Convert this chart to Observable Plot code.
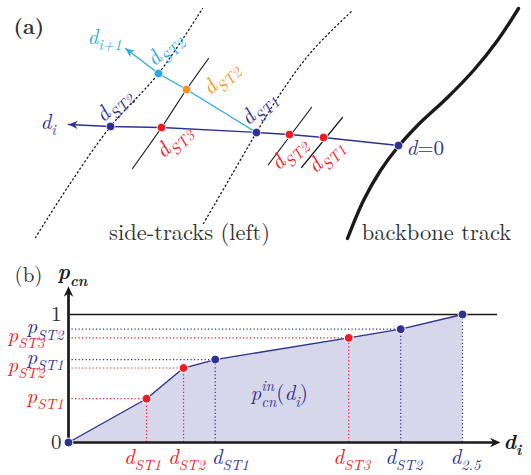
<!DOCTYPE html>
<html><head><meta charset="utf-8">
<script src="https://cdn.jsdelivr.net/npm/d3@7"></script>
<script src="https://cdn.jsdelivr.net/npm/@observablehq/plot@0.6"></script>
<style>
html,body{margin:0;padding:0;background:#fff;}
#chart svg{display:block;}
#chart svg text, #chart svg tspan{font-family:"Latin Modern Roman","CMU Serif",serif;}
</style></head><body><div id="chart"></div>
<script>
// ---------- Panel (a): schematic geometry (diagram units, y downward) ----------
const leftDottedTrack = [[35,237],[67,187],[110,126],[158,73],[202,8]];
const midDottedTrack  = [[203,223],[228,180],[256,132],[282,90],[312,50],[352,10]];
const sideTrackA = [[132,168],[161,127],[186,89],[208,58]];
const sideTrackB = [[268,164],[311,107]];
const sideTrackC = [[301,167],[342,117]];
const backboneTrack = [[347,238],[363,200],[380,170],[397,147],[417,125],[447,97],[473,70],[497,40],[518,8]];
const pathDi  = [[398,145],[323,137],[289,134],[256,132],[161,127],[110,126],[68,124]];
const pathDi1 = [[256,132],[186,89],[158,73],[125,48]];

const crossX    = [110, 256, 398, 161, 289, 323, 158, 186];
const crossY    = [126, 132, 145, 127, 134, 137, 73, 89];
const crossKind = ["break","break","break","track","track","track","next","nextTrack"];

const rotLabels = ["d_{ST2}","d_{ST2}","d_{ST2}","d_{ST1}","d_{ST3}","d_{ST2}","d_{ST1}"];
const rotX      = [163, 219, 112, 257, 172, 287, 324];
const rotY      = [48, 77, 104, 107, 140, 152, 155];
const rotKind   = ["next","nextTrack","break","break","track","track","track"];
const labelTilt = -45;

const mathLabels = ["d_{i+1}", "d_{i}", "d!{=0}"];
const mathX      = [87, 40, 406];
const mathY      = [43, 128, 154];
const mathKind   = ["next", "break", "break"];

const captions  = ["side-tracks (left)", "backbone track"];
const captionX  = [189, 436];
const captionY  = [239, 239];

// ---------- Panel (b): p_cn(d_i) ----------
const dPos      = [0, 0.495, 0.73, 0.931, 1.778, 2.108, 2.5];
const pCn       = [0, 0.342, 0.582, 0.648, 0.817, 0.885, 1];
const pointKind = ["break","track","track","break","track","break","break"];
const pointSub  = ["", "ST1", "ST2", "ST1", "ST3", "ST2", "2.5"];
const yTicks    = [0, 1];
const xAxisTip  = 2.741;
const yAxisTip  = 1.22;
const topLineEnd = 2.722;
const curveLabel = {d: 1.155, p: 0.33, text: "p^{in}_{cn}!{(}d_{i}!{)}"};

// ---------- styles ----------
const NAVY = "#2e3192", RED = "#ed1c24", CYAN = "#29abe2", ORANGE = "#f7931e", INK = "#1a1a1a", GREY = "#333333";
const KIND_COLOR = {break: NAVY, track: RED, next: CYAN, nextTrack: ORANGE};
const SERIF = "Latin Modern Roman";

const stealth = {
  draw(ctx, size) {
    const s = Math.sqrt(size / Math.PI);
    const L = 2.1 * s, W = 0.95 * s;
    ctx.moveTo(0, 0);
    ctx.lineTo(-L, -W);
    ctx.lineTo(-0.68 * L, 0);
    ctx.lineTo(-L, W);
    ctx.closePath();
  }
};

const xy = {x: d => d[0], y: d => d[1]};
function headOf(path) {
  const [a, b] = [path[path.length - 2], path[path.length - 1]];
  return {x: b[0], y: b[1], angle: Math.atan2(b[1] - a[1], b[0] - a[0]) * 180 / Math.PI};
}

const crossings = crossX.map((x, i) => ({x, y: crossY[i], kind: crossKind[i]}));
const rotRows = rotLabels.map((t, i) => ({t: `@{${labelTilt}}` + t, x: rotX[i], y: rotY[i], kind: rotKind[i]}));
const mathRows = mathLabels.map((t, i) => ({t, x: mathX[i], y: mathY[i], kind: mathKind[i]}));
const capRows = captions.map((t, i) => ({t, x: captionX[i], y: captionY[i]}));
const heads = [headOf(pathDi), headOf(pathDi1)].map((h, i) => ({...h, kind: i ? "next" : "break"}));

const panelA = Plot.plot({
  width: 531, height: 250, margin: 0,
  x: {domain: [0, 531], axis: null},
  y: {domain: [250, 0], axis: null},
  style: {fontFamily: SERIF, background: "white", overflow: "visible"},
  marks: [
    Plot.line(leftDottedTrack, {...xy, curve: "catmull-rom", stroke: INK, strokeWidth: 1.3, strokeDasharray: "1.3,3"}),
    Plot.line(midDottedTrack, {...xy, curve: "catmull-rom", stroke: INK, strokeWidth: 1.3, strokeDasharray: "1.3,3"}),
    Plot.line(sideTrackA, {...xy, curve: "catmull-rom", stroke: INK, strokeWidth: 1.2}),
    Plot.line(sideTrackB, {...xy, stroke: INK, strokeWidth: 1.2}),
    Plot.line(sideTrackC, {...xy, stroke: INK, strokeWidth: 1.2}),
    Plot.line(backboneTrack, {...xy, curve: "catmull-rom", stroke: INK, strokeWidth: 3.4}),
    Plot.line(pathDi, {...xy, stroke: NAVY, strokeWidth: 1.3}),
    Plot.line(pathDi1, {...xy, stroke: CYAN, strokeWidth: 1.3}),
    Plot.dot(heads, {x: "x", y: "y", rotate: "angle", symbol: stealth, r: 4.4, fill: d => KIND_COLOR[d.kind], stroke: "none"}),
    Plot.dot(crossings, {x: "x", y: "y", r: 4.3, fill: d => KIND_COLOR[d.kind], stroke: "white", strokeWidth: 0.8}),
    Plot.text(rotRows, {x: "x", y: "y", text: "t", fill: d => KIND_COLOR[d.kind], fontSize: 22, fontStyle: "italic", fontFamily: SERIF, textAnchor: "middle", lineAnchor: "middle"}),
    Plot.text(mathRows, {x: "x", y: "y", text: "t", fill: d => KIND_COLOR[d.kind], fontSize: 21, fontStyle: "italic", fontFamily: SERIF, textAnchor: "start", lineAnchor: "bottom"}),
    Plot.text(capRows, {x: "x", y: "y", text: "t", fill: GREY, fontSize: 22.5, fontFamily: SERIF, textAnchor: "middle", lineAnchor: "bottom"}),
    Plot.text(["(a)"], {x: 13, y: 33, text: d => d, fill: GREY, fontSize: 21, fontWeight: "bold", fontFamily: SERIF, textAnchor: "start", lineAnchor: "bottom"})
  ]
});

// ---------- panel (b) rows ----------
const rows = dPos.map((d, i) => ({d, p: pCn[i], kind: pointKind[i], sub: pointSub[i]}));
const inner = rows.slice(1, -1);
const labeled = rows.slice(1);
const yLab = inner.map(r => ({...r, crowded: r.kind === "track" && inner.some(o => o.kind === "break" && Math.abs(o.p - r.p) < 0.09)}));
const xLab = labeled.map((r, i) => {
  const prevGap = i > 0 ? r.d - labeled[i - 1].d : Infinity;
  const nextGap = i < labeled.length - 1 ? labeled[i + 1].d - r.d : Infinity;
  return {...r, shift: prevGap < 0.22 ? "right" : (nextGap < 0.25 && prevGap >= 0.25 ? "left" : "none")};
});
const col = d => KIND_COLOR[d.kind];
const txtB = {fontSize: 21, fontStyle: "italic", fontFamily: SERIF};
const xLabMark = (shift, dx) => Plot.text(xLab.filter(r => r.shift === shift), {x: "d", y: 0, text: d => `d_{${d.sub}}`, fill: col, ...txtB, textAnchor: "middle", lineAnchor: "bottom", dx, dy: 21});

const panelB = Plot.plot({
  width: 531, height: 225,
  marginLeft: 68, marginRight: 69, marginTop: 64, marginBottom: 33,
  x: {domain: [0, 2.5], axis: null},
  y: {domain: [0, 1], axis: null},
  style: {fontFamily: SERIF, background: "white", overflow: "visible"},
  marks: [
    Plot.areaY(rows, {x: "d", y: "p", fill: "#d7d7ec"}),
    Plot.ruleY(inner, {y: "p", x1: 0, x2: "d", stroke: col, strokeWidth: 1.2, strokeDasharray: "1.2,2.3"}),
    Plot.ruleX(labeled, {x: "d", y1: 0, y2: "p", stroke: col, strokeWidth: 1.2, strokeDasharray: "1.2,2.3"}),
    Plot.ruleY([1], {y: d => d, x1: 0, x2: topLineEnd, stroke: INK, strokeWidth: 1.4}),
    Plot.line(rows, {x: "d", y: "p", stroke: NAVY, strokeWidth: 1.3}),
    Plot.ruleX([0], {x: d => d, y1: -0.005, y2: yAxisTip - 0.04, stroke: INK, strokeWidth: 2.7}),
    Plot.ruleY([0], {y: d => d, x1: 0, x2: xAxisTip - 0.04, stroke: INK, strokeWidth: 2.7}),
    Plot.dot([{x: 0, y: yAxisTip, a: -90}, {x: xAxisTip, y: 0, a: 0}], {x: "x", y: "y", rotate: "a", symbol: stealth, r: 5, fill: INK, stroke: "none"}),
    Plot.dot(rows, {x: "d", y: "p", r: 4.4, fill: col, stroke: "white", strokeWidth: 1}),
    // y labels
    Plot.text(yLab.filter(r => !r.crowded), {x: 0, y: "p", text: d => `p_{${d.sub}}`, fill: col, ...txtB, textAnchor: "end", lineAnchor: "bottom", dx: -5, dy: 4}),
    Plot.text(yLab.filter(r => r.crowded), {x: 0, y: "p", text: d => `p_{${d.sub}}`, fill: col, ...txtB, textAnchor: "end", lineAnchor: "bottom", dx: -24, dy: 4}),
    // x labels
    xLabMark("none", 3),
    xLabMark("left", -4),
    xLabMark("right", 15),
    // ticks 0 and 1
    Plot.text(yTicks, {x: 0, y: d => d, text: d => String(d), fill: GREY, fontSize: 21, fontFamily: SERIF, textAnchor: "end", lineAnchor: "middle", dx: -7}),
    // axis titles
    Plot.text(["p_{cn}"], {x: 0, y: yAxisTip, text: d => d, fill: INK, fontSize: 21, fontStyle: "italic", fontWeight: "bold", fontFamily: SERIF, textAnchor: "middle", lineAnchor: "bottom", dx: 4, dy: -7}),
    Plot.text(["(b)"], {x: 0, y: yAxisTip, text: d => d, fill: GREY, fontSize: 21, fontFamily: SERIF, textAnchor: "middle", lineAnchor: "bottom", dx: -40, dy: -4}),
    Plot.text(["d_{i}"], {x: xAxisTip, y: 0, text: d => d, fill: INK, fontSize: 21, fontStyle: "italic", fontWeight: "bold", fontFamily: SERIF, textAnchor: "start", lineAnchor: "bottom", dx: 3, dy: 6}),
    Plot.text([curveLabel], {x: "d", y: "p", text: "text", fill: NAVY, ...txtB, textAnchor: "start", lineAnchor: "bottom"})
  ]
});

const chart = document.getElementById("chart");
chart.append(panelA, panelB);

// Turn the small markup (_{sub}, ^{sup}, !{upright}, @{angle}) into tspans / a rotated wrapper group
function richText(svg) {
  const NS = "http://www.w3.org/2000/svg";
  svg.querySelectorAll("text").forEach(el => {
    const src = el.textContent;
    if (!/[_^!@]\{/.test(src)) return;
    const fs = parseFloat(getComputedStyle(el).fontSize) || 16;
    el.textContent = "";
    const re = /([_^!@])\{([^}]*)\}|([^_^!@]+|[_^!@])/g;
    let m, cur = 0, prev = null, prevKind = null;
    while ((m = re.exec(src))) {
      const kind = m[1] || "t";
      const txt = m[1] ? m[2] : m[3];
      if (kind === "@") {
        const ang = +txt;
        const tr = (el.getAttribute("transform") || "").replace(/\s*rotate\([^)]*\)/g, "");
        const g = document.createElementNS(NS, "g");
        g.setAttribute("transform", `${tr} rotate(${ang})`.trim());
        el.parentNode.insertBefore(g, el);
        g.appendChild(el);
        el.removeAttribute("transform");
        continue;
      }
      const t = document.createElementNS(NS, "tspan");
      let target = 0;
      if (kind === "_") { target = 0.3 * fs; t.setAttribute("font-size", 0.7 * fs); }
      else if (kind === "^") { target = -0.42 * fs; t.setAttribute("font-size", 0.7 * fs); }
      else if (kind === "!") { t.setAttribute("font-style", "normal"); }
      const dy = target - cur;
      if (dy) t.setAttribute("dy", dy);
      cur = target;
      t.textContent = txt;
      el.appendChild(t);
      if (kind === "_" && prevKind === "^") t.setAttribute("dx", -prev.getComputedTextLength());
      prev = t; prevKind = kind;
    }
  });
}
richText(panelA);
richText(panelB);
</script></body></html>
